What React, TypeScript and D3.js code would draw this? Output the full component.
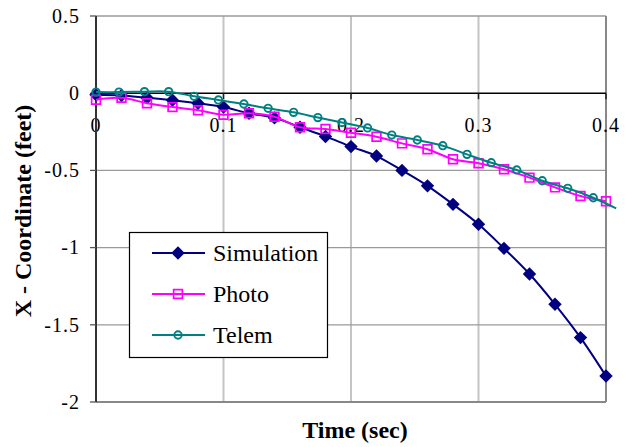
import React, { useEffect, useRef } from "react";
import * as d3 from "d3";

// sample times (sec) and x-coordinate (feet)
const simTime = [0, 0.02, 0.04, 0.06, 0.08, 0.1, 0.12, 0.14, 0.16, 0.18, 0.2, 0.22, 0.24, 0.26, 0.28, 0.3, 0.32, 0.34, 0.36, 0.38, 0.4];
const simX = [-0.01, -0.015, -0.03, -0.045, -0.065, -0.09, -0.13, -0.16, -0.22, -0.28, -0.346, -0.407, -0.5, -0.6, -0.72, -0.849, -1.005, -1.171, -1.367, -1.583, -1.832];

const photoTime = [0, 0.02, 0.04, 0.06, 0.08, 0.1, 0.12, 0.14, 0.16, 0.18, 0.2, 0.22, 0.24, 0.26, 0.28, 0.3, 0.32, 0.34, 0.36, 0.38, 0.4];
const photoX = [-0.042, -0.03, -0.065, -0.09, -0.11, -0.14, -0.13, -0.152, -0.221, -0.232, -0.256, -0.282, -0.325, -0.363, -0.428, -0.454, -0.493, -0.547, -0.61, -0.666, -0.7];

const telemTime = [0, 0.018, 0.038, 0.057, 0.077, 0.096, 0.116, 0.135, 0.155, 0.174, 0.193, 0.213, 0.232, 0.252, 0.272, 0.291, 0.31, 0.33, 0.35, 0.37, 0.39, 0.408];
const telemX = [0.007, 0.007, 0.01, 0.01, -0.02, -0.044, -0.07, -0.098, -0.124, -0.158, -0.19, -0.225, -0.271, -0.303, -0.34, -0.396, -0.45, -0.497, -0.567, -0.616, -0.677, -0.746];

const xTicks = [0, 0.1, 0.2, 0.3, 0.4];
const yTicks = [0.5, 0, -0.5, -1, -1.5, -2];
const seriesNames = ["Simulation", "Photo", "Telem"];

const colors = ["#000080", "#ff00ff", "#008080"];
const font = "Liberation Serif, DejaVu Serif, serif";

export default function App() {
  const ref = useRef<SVGSVGElement>(null);

  useEffect(() => {
    const svg = d3.select(ref.current);
    svg.selectAll("*").remove();

    const left = 96, right = 606, top = 16, bottom = 402;
    const x = d3.scaleLinear().domain([0, 0.4]).range([left, right]);
    const y = d3.scaleLinear().domain([-2, 0.5]).range([bottom, top]);

    const series = [
      simTime.map((t, i) => [t, simX[i]]),
      photoTime.map((t, i) => [t, photoX[i]]),
      telemTime.map((t, i) => [t, telemX[i]]),
    ];

    // plot background + grid
    svg.append("rect").attr("x", left).attr("y", top).attr("width", right - left).attr("height", bottom - top).attr("fill", "white");

    svg.selectAll(".vgrid").data(xTicks.filter(d => d > 0 && d < 0.4)).join("line")
      .attr("class", "vgrid")
      .attr("x1", d => x(d)).attr("x2", d => x(d)).attr("y1", top).attr("y2", bottom)
      .attr("stroke", "#c4c4c4").attr("stroke-width", 2);

    svg.selectAll(".hgrid").data(yTicks.filter(d => d !== 0 && d !== -2)).join("line")
      .attr("class", "hgrid")
      .attr("x1", left).attr("x2", right).attr("y1", d => y(d)).attr("y2", d => y(d))
      .attr("stroke", "#9a9a9a").attr("stroke-width", 1.3);

    // right + bottom border
    svg.append("line").attr("x1", right).attr("x2", right).attr("y1", top).attr("y2", bottom)
      .attr("stroke", "#888").attr("stroke-width", 2);
    svg.append("line").attr("x1", left).attr("x2", right).attr("y1", bottom).attr("y2", bottom)
      .attr("stroke", "#888").attr("stroke-width", 2);

    // x axis at y = 0
    svg.append("line").attr("x1", left).attr("x2", right).attr("y1", y(0)).attr("y2", y(0))
      .attr("stroke", "#000").attr("stroke-width", 1.5);
    svg.selectAll(".xtick").data(xTicks).join("line")
      .attr("class", "xtick")
      .attr("x1", d => x(d)).attr("x2", d => x(d)).attr("y1", y(0)).attr("y2", y(0) + 6)
      .attr("stroke", "#222").attr("stroke-width", 1.5);
    svg.selectAll(".xlab").data(xTicks).join("text")
      .attr("class", "xlab")
      .attr("x", d => x(d)).attr("y", y(0) + 39)
      .attr("text-anchor", "middle")
      .attr("font-family", font).attr("font-size", 20).attr("letter-spacing", 1)
      .text(d => String(d));

    // y axis
    svg.append("line").attr("x1", left).attr("x2", left).attr("y1", top).attr("y2", bottom)
      .attr("stroke", "#333").attr("stroke-width", 2);
    svg.selectAll(".ytick").data(yTicks).join("line")
      .attr("class", "ytick")
      .attr("x1", left - 6).attr("x2", left).attr("y1", d => y(d)).attr("y2", d => y(d))
      .attr("stroke", "#555").attr("stroke-width", 1.3);
    svg.selectAll(".ylab").data(yTicks).join("text")
      .attr("class", "ylab")
      .attr("x", 80).attr("y", d => y(d)).attr("dy", "0.34em")
      .attr("text-anchor", "end")
      .attr("font-family", font).attr("font-size", 20).attr("letter-spacing", 1)
      .text(d => String(d));

    // series
    const line = d3.line<number[]>().x(d => x(d[0])).y(d => y(d[1])).curve(d3.curveCatmullRom.alpha(0.5));
    const diamond = d3.symbol(d3.symbolSquare, 90)();
    const square = d3.symbol(d3.symbolSquare, 76)();

    const drawMarker = (g: any, k: number) => {
      if (k === 0) {
        g.append("path").attr("d", diamond).attr("transform", "rotate(45)").attr("fill", colors[0]);
      } else if (k === 1) {
        g.append("path").attr("d", square).attr("fill", "none").attr("stroke", colors[1]).attr("stroke-width", 1.7);
      } else {
        g.append("circle").attr("r", 3.7).attr("fill", "none").attr("stroke", colors[2]).attr("stroke-width", 1.9);
      }
    };

    series.forEach((s, k) => {
      svg.append("path").datum(s).attr("d", line).attr("fill", "none")
        .attr("stroke", colors[k]).attr("stroke-width", 2);
      s.filter(d => d[0] <= 0.4).forEach(d => {
        const g = svg.append("g").attr("transform", `translate(${x(d[0])},${y(d[1])})`);
        drawMarker(g, k);
      });
    });

    // legend
    const lg = svg.append("g");
    lg.append("rect").attr("x", 129.5).attr("y", 232.5).attr("width", 198).attr("height", 125)
      .attr("fill", "white").attr("stroke", "#000").attr("stroke-width", 1.2);
    seriesNames.forEach((name, k) => {
      const ly = 253 + k * 41;
      lg.append("line").attr("x1", 152).attr("x2", 205).attr("y1", ly).attr("y2", ly)
        .attr("stroke", colors[k]).attr("stroke-width", 2);
      const g = lg.append("g").attr("transform", `translate(178,${ly})`);
      drawMarker(g, k);
      lg.append("text").attr("x", 213).attr("y", ly).attr("dy", "0.34em")
        .attr("font-family", font).attr("font-size", 24).text(name);
    });

    // axis titles
    svg.append("text").attr("x", 355).attr("y", 438).attr("text-anchor", "middle")
      .attr("font-family", font).attr("font-size", 24).attr("font-weight", "bold")
      .text("Time (sec)");
    svg.append("text").attr("transform", "translate(31,211) rotate(-90)").attr("text-anchor", "middle")
      .attr("font-family", font).attr("font-size", 24).attr("font-weight", "bold")
      .text("X - Coordinate (feet)");
  }, []);

  return (
    <svg ref={ref} width={632} height={447}
      style={{ position: "absolute", left: 0, top: 0, background: "white" }} />
  );
}
